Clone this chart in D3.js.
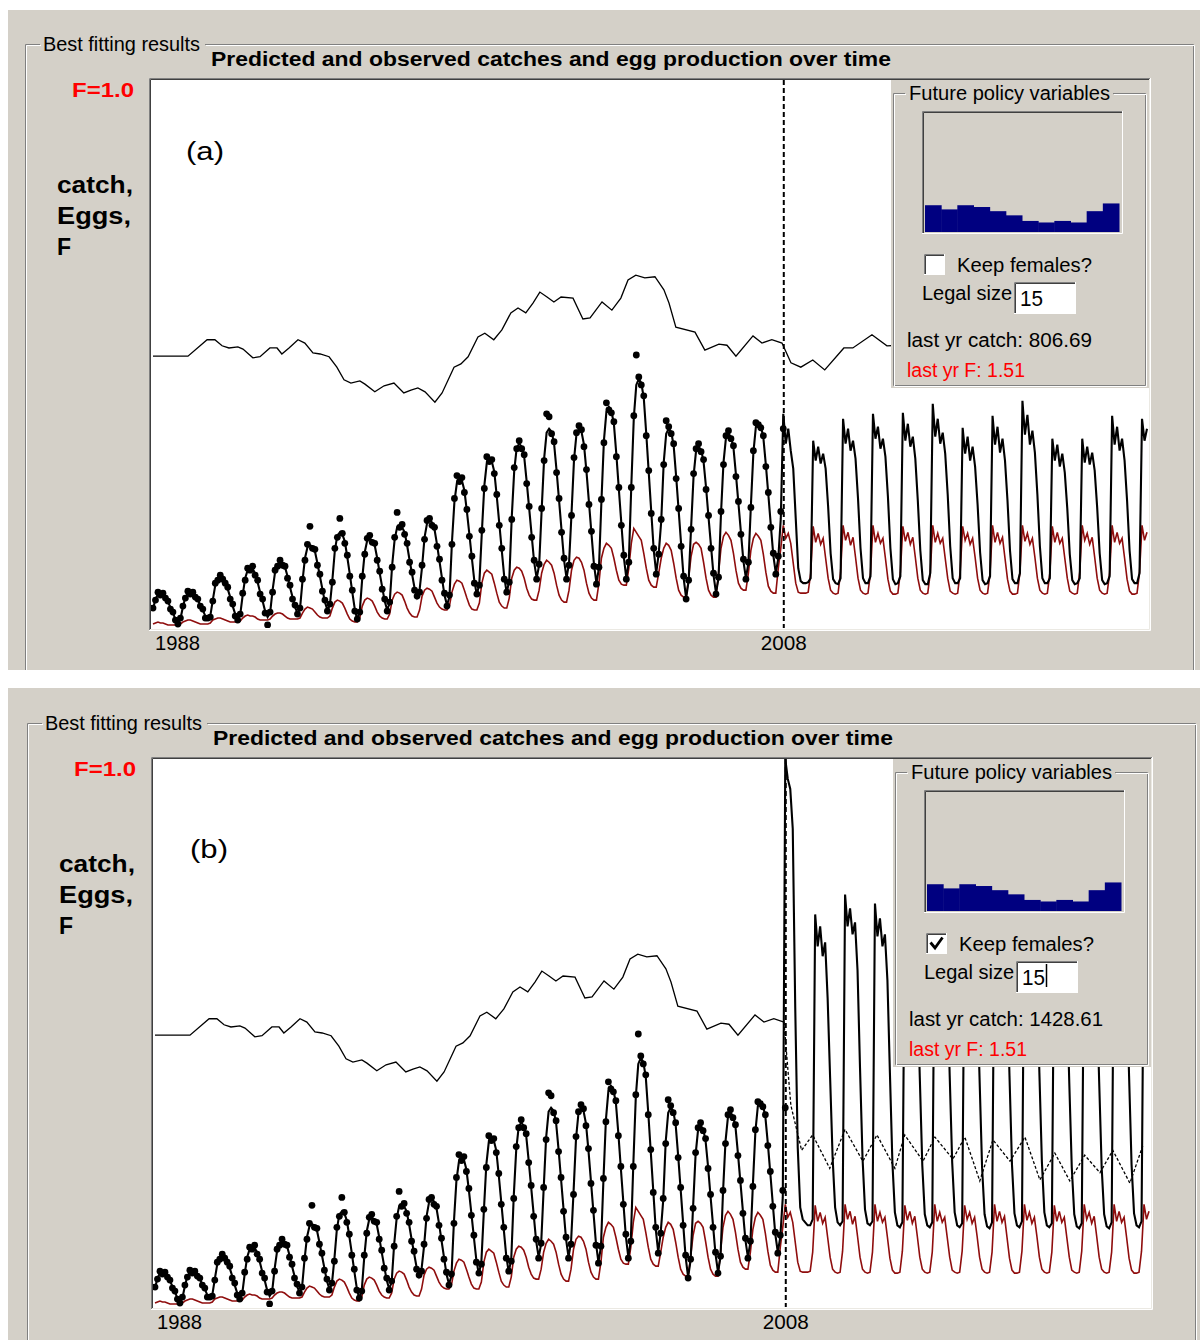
<!DOCTYPE html>
<html>
<head>
<meta charset="utf-8">
<script src="https://cdn.jsdelivr.net/npm/d3@7"></script>
<style>
  body { margin: 0; background: #fff; }
  text { font-family: "Liberation Sans", Arial, sans-serif; }
</style>
</head>
<body>
<svg id="chart" width="1200" height="1340"></svg>
<script>
// ---- data -------------------------------------------------------------
// monthly steps, first step sits on the left edge of the plot
var startYear = 1986.9,
    endYear = 2020.15,
    currentYear = 2008;
var tickYears = [1988, 2008];

// predicted catch, one row of 12 months per season (t)
var predCatchYears = [
  [19, 29, 34, 35, 33, 32, 26, 21, 15, 9, 6, 9],
  [21, 31, 35, 36, 35, 33, 28, 23, 18, 12, 9, 12],
  [28, 43, 50, 51, 50, 47, 39, 31, 22, 14, 9, 13],
  [33, 50, 58, 60, 59, 55, 46, 36, 27, 17, 11, 15],
  [38, 56, 64, 66, 65, 61, 52, 41, 31, 21, 15, 19],
  [47, 70, 81, 83, 82, 77, 65, 52, 39, 26, 18, 23],
  [48, 78, 93, 96, 94, 87, 71, 54, 36, 19, 8, 17],
  [50, 76, 88, 90, 88, 83, 70, 55, 41, 27, 18, 25],
  [63, 89, 101, 103, 101, 96, 83, 68, 54, 40, 31, 38],
  [61, 91, 105, 108, 106, 99, 84, 67, 50, 33, 23, 31],
  [86, 127, 146, 150, 148, 138, 117, 94, 70, 47, 33, 45],
  [96, 143, 166, 170, 167, 157, 132, 105, 78, 51, 35, 48],
  [111, 158, 181, 185, 182, 172, 147, 120, 93, 66, 50, 63],
  [118, 170, 196, 200, 197, 185, 158, 128, 98, 68, 50, 65],
  [115, 169, 195, 200, 197, 184, 157, 126, 95, 64, 45, 60],
  [127, 188, 217, 222, 218, 205, 174, 139, 105, 71, 50, 67],
  [143, 211, 244, 250, 246, 231, 195, 156, 117, 78, 55, 75],
  [107, 166, 195, 200, 197, 183, 152, 118, 84, 50, 30, 47],
  [101, 153, 178, 182, 179, 167, 141, 111, 82, 53, 35, 50],
  [115, 166, 191, 195, 192, 181, 154, 125, 96, 67, 50, 65],
  [123, 176, 202, 206, 203, 191, 164, 134, 103, 73, 55, 70],
  [110, 215, 185, 200, 178, 160, 110, 60, 47, 45, 45, 46],
  [50, 188, 168, 182, 165, 175, 160, 122, 75, 49, 45, 44],
  [50, 210, 185, 200, 178, 188, 170, 130, 80, 50, 45, 45],
  [52, 215, 190, 202, 180, 190, 172, 132, 80, 49, 44, 45],
  [52, 216, 188, 205, 182, 192, 170, 128, 78, 48, 44, 44],
  [55, 225, 192, 210, 185, 196, 175, 134, 82, 50, 45, 45],
  [50, 201, 175, 192, 168, 182, 162, 124, 76, 48, 44, 45],
  [52, 213, 184, 202, 176, 190, 168, 128, 78, 49, 45, 45],
  [55, 228, 194, 214, 184, 198, 176, 134, 82, 50, 45, 45],
  [50, 190, 168, 184, 162, 175, 156, 120, 74, 48, 44, 45],
  [50, 190, 166, 182, 164, 176, 158, 121, 75, 48, 44, 45],
  [52, 213, 184, 202, 178, 190, 168, 128, 78, 49, 45, 45],
  [55, 210, 188, 200]
];

// predicted catch from 2008 on when females are kept (panel b)
var keepFemalesCatchYears = [
  [110, 550, 530, 520, 480, 300, 160, 100, 88, 85, 82, 82],
  [88, 394, 362, 382, 352, 366, 310, 230, 150, 100, 85, 82],
  [86, 414, 382, 400, 374, 386, 338, 240, 150, 98, 84, 82],
  [86, 405, 372, 390, 362, 374, 328, 235, 145, 95, 82, 80],
  [85, 400, 366, 386, 356, 370, 322, 230, 142, 93, 82, 80],
  [85, 410, 374, 394, 362, 376, 328, 232, 145, 95, 82, 80],
  [84, 395, 362, 382, 352, 366, 320, 228, 140, 93, 81, 79],
  [85, 405, 370, 390, 358, 372, 326, 232, 143, 94, 82, 80],
  [86, 415, 378, 398, 364, 380, 332, 235, 146, 95, 82, 80],
  [84, 392, 360, 380, 350, 364, 318, 225, 140, 93, 81, 79],
  [84, 392, 358, 380, 352, 364, 318, 226, 140, 93, 81, 79],
  [85, 405, 370, 390, 358, 372, 326, 232, 143, 94, 82, 80],
  [86, 405, 372, 390]
];

// observed catch, up to the current year
var obsCatchYears = [
  [20, 28, 36, 33, 35, 30, 27, 19, 16, 8, 4, 10],
  [22, 30, 37, 34, 36, 31, 29, 22, 19, 10, 10, 11],
  [27, 45, 48, 53, 49, 45, 41, 29, 24, 12, 8, 14],
  [35, 48, 60, 58, 62, 53, 48, 34, 29, 15, 3, 16],
  [36, 58, 62, 68, 63, 62, 50, 43, 29, 23, 14, 20],
  [49, 68, 84, 102, 80, 79, 63, 54, 37, 28, 17, 24],
  [46, 80, 91, 110, 95, 85, 73, 52, 38, 17, 9, 16],
  [52, 74, 90, 93, 86, 85, 68, 57, 39, 29, 17, 26],
  [61, 91, 116, 101, 104, 94, 85, 66, 56, 38, 32, 36],
  [63, 89, 108, 110, 103, 101, 82, 69, 48, 35, 22, 33],
  [84, 130, 153, 147, 151, 136, 119, 92, 72, 45, 34, 43],
  [98, 140, 172, 167, 169, 155, 134, 103, 80, 49, 36, 46],
  [109, 161, 180, 188, 180, 174, 145, 122, 91, 68, 49, 64],
  [120, 168, 215, 212, 195, 187, 156, 130, 96, 70, 49, 63],
  [113, 171, 196, 203, 199, 182, 159, 124, 97, 62, 44, 61],
  [129, 186, 226, 219, 216, 207, 172, 141, 103, 73, 49, 66],
  [141, 213, 274, 252, 244, 233, 193, 158, 115, 80, 54, 74],
  [109, 164, 208, 202, 195, 185, 150, 120, 82, 52, 29, 48],
  [99, 155, 180, 185, 177, 169, 139, 113, 80, 55, 34, 51],
  [117, 164, 193, 198, 190, 183, 152, 127, 94, 69, 49, 66],
  [121, 178, 206, 204, 201, 193, 162, 136, 101, 75, 54, 72],
  [117, 200]
];

// egg production (same scale as catch)
var eggYears = [
  [4, 5, 6, 5, 5, 4, 3, 3, 3, 3, 3, 4],
  [6, 7, 8, 8, 7, 6, 5, 4, 4, 4, 4, 5],
  [8, 9, 10, 10, 9, 8, 7, 6, 6, 6, 6, 7],
  [10, 12, 13, 12, 12, 11, 9, 8, 8, 8, 8, 9],
  [12, 14, 15, 15, 14, 12, 10, 9, 9, 9, 9, 10],
  [15, 19, 21, 20, 19, 16, 13, 11, 10, 10, 10, 12],
  [20, 26, 28, 27, 25, 20, 14, 9, 7, 6, 6, 10],
  [22, 28, 30, 29, 27, 22, 16, 12, 10, 9, 9, 14],
  [28, 34, 36, 35, 33, 27, 20, 15, 12, 11, 11, 18],
  [32, 38, 40, 39, 37, 31, 25, 21, 19, 18, 18, 22],
  [36, 44, 48, 47, 45, 38, 30, 23, 19, 18, 18, 25],
  [45, 55, 58, 56, 54, 45, 35, 26, 22, 20, 20, 30],
  [50, 58, 61, 60, 57, 50, 40, 33, 29, 28, 28, 38],
  [55, 64, 68, 66, 63, 55, 43, 33, 28, 26, 26, 38],
  [58, 68, 71, 70, 66, 58, 45, 35, 30, 28, 28, 45],
  [70, 80, 85, 83, 80, 70, 58, 48, 44, 43, 43, 60],
  [85, 100, 96, 92, 88, 75, 60, 48, 43, 41, 41, 55],
  [70, 80, 85, 83, 78, 65, 50, 38, 33, 31, 31, 50],
  [72, 84, 86, 84, 80, 66, 50, 38, 33, 31, 31, 55],
  [80, 92, 96, 93, 88, 75, 58, 45, 40, 38, 38, 55],
  [78, 90, 95, 92, 88, 74, 56, 42, 37, 35, 35, 60],
  [80, 103, 90, 95, 85, 65, 45, 36, 35, 35, 35, 36],
  [55, 102, 86, 95, 84, 90, 70, 50, 38, 35, 34, 35],
  [56, 103, 88, 96, 83, 91, 71, 50, 38, 35, 34, 35],
  [55, 103, 86, 95, 85, 90, 70, 49, 37, 34, 34, 35],
  [56, 102, 87, 96, 84, 91, 71, 50, 38, 35, 34, 35],
  [55, 103, 86, 95, 85, 90, 70, 50, 37, 35, 34, 35],
  [56, 102, 88, 95, 84, 90, 71, 50, 38, 35, 34, 35],
  [55, 103, 86, 96, 85, 91, 70, 49, 37, 34, 34, 35],
  [56, 103, 87, 95, 84, 90, 71, 50, 38, 35, 34, 35],
  [55, 102, 86, 96, 85, 90, 70, 50, 37, 35, 34, 35],
  [56, 103, 88, 95, 84, 91, 71, 50, 38, 35, 34, 35],
  [55, 103, 86, 96, 85, 90, 70, 49, 37, 34, 34, 35],
  [56, 103, 88, 96]
];

// fishing mortality F, [year, F]
var fSeries = [
  [1986.90, 0.496], [1988.07, 0.496], [1988.71, 0.526], [1988.97, 0.526], [1989.21, 0.515],
  [1989.44, 0.511], [1989.74, 0.513], [1989.91, 0.509], [1990.24, 0.493], [1990.48, 0.495],
  [1990.81, 0.511], [1991.05, 0.511], [1991.21, 0.500], [1991.45, 0.511], [1991.75, 0.526],
  [1991.98, 0.520], [1992.25, 0.502], [1992.49, 0.500], [1992.79, 0.495], [1993.05, 0.476],
  [1993.29, 0.453], [1993.52, 0.447], [1993.82, 0.451], [1993.99, 0.445], [1994.32, 0.431],
  [1994.63, 0.442], [1994.96, 0.447], [1995.29, 0.429], [1995.53, 0.434], [1995.76, 0.438],
  [1996.00, 0.431], [1996.33, 0.412], [1996.57, 0.429], [1996.97, 0.476], [1997.20, 0.482],
  [1997.44, 0.495], [1997.77, 0.531], [1998.00, 0.538], [1998.30, 0.526], [1998.57, 0.544],
  [1998.87, 0.575], [1999.11, 0.584], [1999.37, 0.575], [1999.61, 0.593], [1999.84, 0.613],
  [2000.08, 0.604], [2000.31, 0.595], [2000.55, 0.604], [2000.95, 0.602], [2001.28, 0.564],
  [2001.52, 0.566], [2001.92, 0.595], [2002.25, 0.580], [2002.55, 0.602], [2002.79, 0.635],
  [2003.05, 0.644], [2003.35, 0.639], [2003.69, 0.641], [2003.99, 0.617], [2004.16, 0.593],
  [2004.39, 0.549], [2005.03, 0.540], [2005.36, 0.507], [2005.83, 0.518], [2006.10, 0.516],
  [2006.40, 0.496], [2006.97, 0.533], [2007.27, 0.520], [2007.60, 0.526], [2007.94, 0.520],
  [2008.24, 0.484], [2008.57, 0.476], [2008.97, 0.489], [2009.37, 0.471], [2010.01, 0.511],
  [2010.31, 0.511], [2010.95, 0.535], [2011.45, 0.515], [2011.88, 0.516], [2012.55, 0.507]
];

// F after 2008 when females are kept (panel b)
var fKeepSeries = [
  [2007.94, 0.520], [2008.17, 0.368], [2008.53, 0.286], [2008.90, 0.314], [2009.47, 0.253],
  [2009.98, 0.324], [2010.58, 0.266], [2011.05, 0.314], [2011.65, 0.253], [2011.98, 0.314],
  [2012.59, 0.266], [2012.99, 0.310], [2013.59, 0.270], [2013.99, 0.310], [2014.49, 0.230],
  [2014.93, 0.305], [2015.50, 0.266], [2016.00, 0.310], [2016.50, 0.232], [2017.00, 0.281],
  [2017.50, 0.230], [2018.00, 0.277], [2018.51, 0.245], [2018.94, 0.286], [2019.51, 0.226],
  [2019.94, 0.294]
];

// future policy: F by month (inset bars)
var monthlyF = [0.225, 0.19, 0.225, 0.21, 0.175, 0.14, 0.093, 0.08, 0.093, 0.08, 0.175, 0.24];

var panels = [
  {dx: 0, dy: 0, tag: '(a)', tagX: 186, tagY: 160, keep: false, lastCatch: '806.69', lastF: '1.51'},
  {dx: 2, dy: 679, tag: '(b)', tagX: 188, tagY: 179, keep: true, lastCatch: '1428.61', lastF: '1.51'}
];

// ---- drawing ----------------------------------------------------------
var GREY = '#d4d0c8';
var svg = d3.select('#chart');

var x = d3.scaleLinear().domain([startYear, endYear]).range([153, 1147]);
var yC = d3.scaleLinear().domain([0, 550]).range([628, 80]);
var yF = d3.scaleLinear().domain([0, 1]).range([628, 80]);

function monthly(values) {
  return values.map(function(v, i) { return [startYear + i / 12, v]; });
}

var lineC = d3.line().x(function(d) { return x(d[0]); }).y(function(d) { return yC(d[1]); });
var lineF = d3.line().x(function(d) { return x(d[0]); }).y(function(d) { return yF(d[1]); });

var nPast = currentYear - 1987;  // seasons shared by both panels
var catchA = monthly(predCatchYears.flat());
var catchB = monthly(predCatchYears.slice(0, nPast).concat(keepFemalesCatchYears).flat());
var eggs = monthly(eggYears.flat());
var obs = monthly(obsCatchYears.flat());
var fPast = fSeries.filter(function(d) { return d[0] <= fKeepSeries[0][0]; });

// grey window backgrounds
svg.append('rect').attr('x', 8).attr('y', 10).attr('width', 1192).attr('height', 660).attr('fill', GREY);
svg.append('rect').attr('x', 8).attr('y', 688).attr('width', 1192).attr('height', 652).attr('fill', GREY);

function etched(g, d) {
  g.append('path').attr('d', d).attr('fill', 'none').attr('stroke', '#808080');
  g.append('path').attr('d', d).attr('transform', 'translate(1,1)').attr('fill', 'none').attr('stroke', '#fff');
}

function label(g, txt, px, py, size, len, opts) {
  opts = opts || {};
  var t = g.append('text').attr('x', px).attr('y', py)
    .attr('font-size', size)
    .attr('fill', opts.color || '#000')
    .attr('font-weight', opts.bold ? 'bold' : 'normal')
    .attr('text-anchor', opts.anchor || 'start')
    .text(txt);
  if (len) t.attr('textLength', len).attr('lengthAdjust', 'spacingAndGlyphs');
  return t;
}

function sunken(g, x0, y0, x1, y1, fill) {
  g.append('rect').attr('x', x0).attr('y', y0).attr('width', x1 - x0).attr('height', y1 - y0).attr('fill', fill);
  g.append('path').attr('d', 'M' + (x0 + 0.5) + ',' + y1 + 'V' + (y0 + 0.5) + 'H' + x1)
    .attr('fill', 'none').attr('stroke', '#808080');
  g.append('path').attr('d', 'M' + (x0 + 1.5) + ',' + (y1 - 1) + 'V' + (y0 + 1.5) + 'H' + (x1 - 1))
    .attr('fill', 'none').attr('stroke', '#404040');
  g.append('path').attr('d', 'M' + x0 + ',' + (y1 - 0.5) + 'H' + (x1 - 0.5) + 'V' + y0)
    .attr('fill', 'none').attr('stroke', '#fff');
}

function drawPanel(p, i) {
  var g = svg.append('g').attr('transform', 'translate(' + p.dx + ',' + p.dy + ')');

  // group box "Best fitting results"
  etched(g, 'M25.5,670V44.5H40M205,44.5H1193.5V670');
  label(g, 'Best fitting results', 43, 51, 20, 157);
  label(g, 'Predicted and observed catches and egg production over time', 211, 66, 20, 680, {bold: true});
  label(g, 'F=1.0', 72, 97, 21, 62, {bold: true, color: '#ff0000'});
  label(g, 'catch,', 57, 193, 23, 76, {bold: true});
  label(g, 'Eggs,', 57, 224, 23, 74, {bold: true});
  label(g, 'F', 57, 255, 23, null, {bold: true});

  // plot area
  g.append('rect').attr('x', 149).attr('y', 78).attr('width', 1001).attr('height', 552).attr('fill', '#fff');
  svg.append('clipPath').attr('id', 'clip' + i)
    .append('rect').attr('x', 151).attr('y', 80).attr('width', 997).attr('height', 548);
  var plot = g.append('g').attr('clip-path', 'url(#clip' + i + ')');

  label(plot, p.tag, p.tagX, p.tagY, 25, 38);

  plot.append('path').datum(p.keep ? fPast : fSeries)
    .attr('d', lineF).attr('fill', 'none').attr('stroke', '#000').attr('stroke-width', 1.3);
  if (p.keep) {
    plot.append('path').datum(fKeepSeries)
      .attr('d', lineF).attr('fill', 'none').attr('stroke', '#000')
      .attr('stroke-width', 1.3).attr('stroke-dasharray', '3,2');
  }

  plot.append('path').datum(eggs)
    .attr('d', lineC).attr('fill', 'none').attr('stroke', '#8f0d0d').attr('stroke-width', 1.6);

  plot.append('path').datum(p.keep ? catchB : catchA)
    .attr('d', lineC).attr('fill', 'none').attr('stroke', '#000').attr('stroke-width', 2.1);

  plot.selectAll('circle.obs').data(obs).enter().append('circle')
    .attr('class', 'obs')
    .attr('cx', function(d) { return x(d[0]); })
    .attr('cy', function(d) { return yC(d[1]); })
    .attr('r', 3.4)
    .attr('fill', '#000');

  plot.append('line')
    .attr('x1', x(currentYear)).attr('x2', x(currentYear))
    .attr('y1', 80).attr('y2', 628)
    .attr('stroke', '#000').attr('stroke-width', 2).attr('stroke-dasharray', '5,3');

  // future policy inset
  var ig = g.append('g');
  ig.append('rect').attr('x', 891).attr('y', 80).attr('width', 258).attr('height', 308).attr('fill', GREY);
  etched(ig, 'M905,93.5H893.5V385.5H1145.5V93.5H1113');
  label(ig, 'Future policy variables', 909, 100, 20, 201);

  sunken(ig, 922, 111, 1123, 234, GREY);
  var bx = d3.scaleBand().domain(d3.range(monthlyF.length)).range([925, 1119]);
  var by = d3.scaleLinear().domain([0, 1]).range([232, 113]);
  ig.selectAll('rect.bar').data(monthlyF).enter().append('rect')
    .attr('class', 'bar')
    .attr('x', function(d, j) { return bx(j); })
    .attr('width', bx.bandwidth() + 0.5)
    .attr('y', function(d) { return by(d); })
    .attr('height', function(d) { return by(0) - by(d); })
    .attr('fill', '#000080');

  sunken(ig, 924, 254, 945, 275, '#fff');
  if (p.keep) {
    ig.append('path').attr('d', 'M928.5,263.5L933,269L940.5,258.5')
      .attr('fill', 'none').attr('stroke', '#000').attr('stroke-width', 2.8);
  }
  label(ig, 'Keep females?', 957, 272, 20, 135);
  label(ig, 'Legal size', 922, 300, 20, 90);
  sunken(ig, 1014, 282, 1076, 314, '#fff');
  label(ig, '15', 1020, 306, 22, 23);
  if (p.keep) {
    ig.append('line').attr('x1', 1044.5).attr('x2', 1044.5).attr('y1', 285).attr('y2', 308)
      .attr('stroke', '#000').attr('stroke-width', 1.5);
  }
  label(ig, 'last yr catch: ' + p.lastCatch, 907, 347, 20, p.keep ? 194 : 185);
  label(ig, 'last yr F: ' + p.lastF, 907, 377, 20, 118, {color: '#ff0000'});

  // plot frame drawn last
  g.append('path').attr('d', 'M149.5,630V78.5H1150').attr('fill', 'none').attr('stroke', '#808080');
  g.append('path').attr('d', 'M150.5,629V79.5H1149').attr('fill', 'none').attr('stroke', '#404040');
  g.append('path').attr('d', 'M150,629.5H1149.5V79').attr('fill', 'none').attr('stroke', '#ebe9e3');
  g.append('path').attr('d', 'M149,630.5H1150.5V78').attr('fill', 'none').attr('stroke', '#fff');

  // year labels: the first one sits on the left edge of the plot
  tickYears.forEach(function(yr, k) {
    if (k === 0) label(g, String(yr), x.range()[0] + 2, 650, 20, 45);
    else label(g, String(yr), x(yr), 650, 20, 46, {anchor: 'middle'});
  });
}

panels.forEach(drawPanel);
</script>
</body>
</html>
